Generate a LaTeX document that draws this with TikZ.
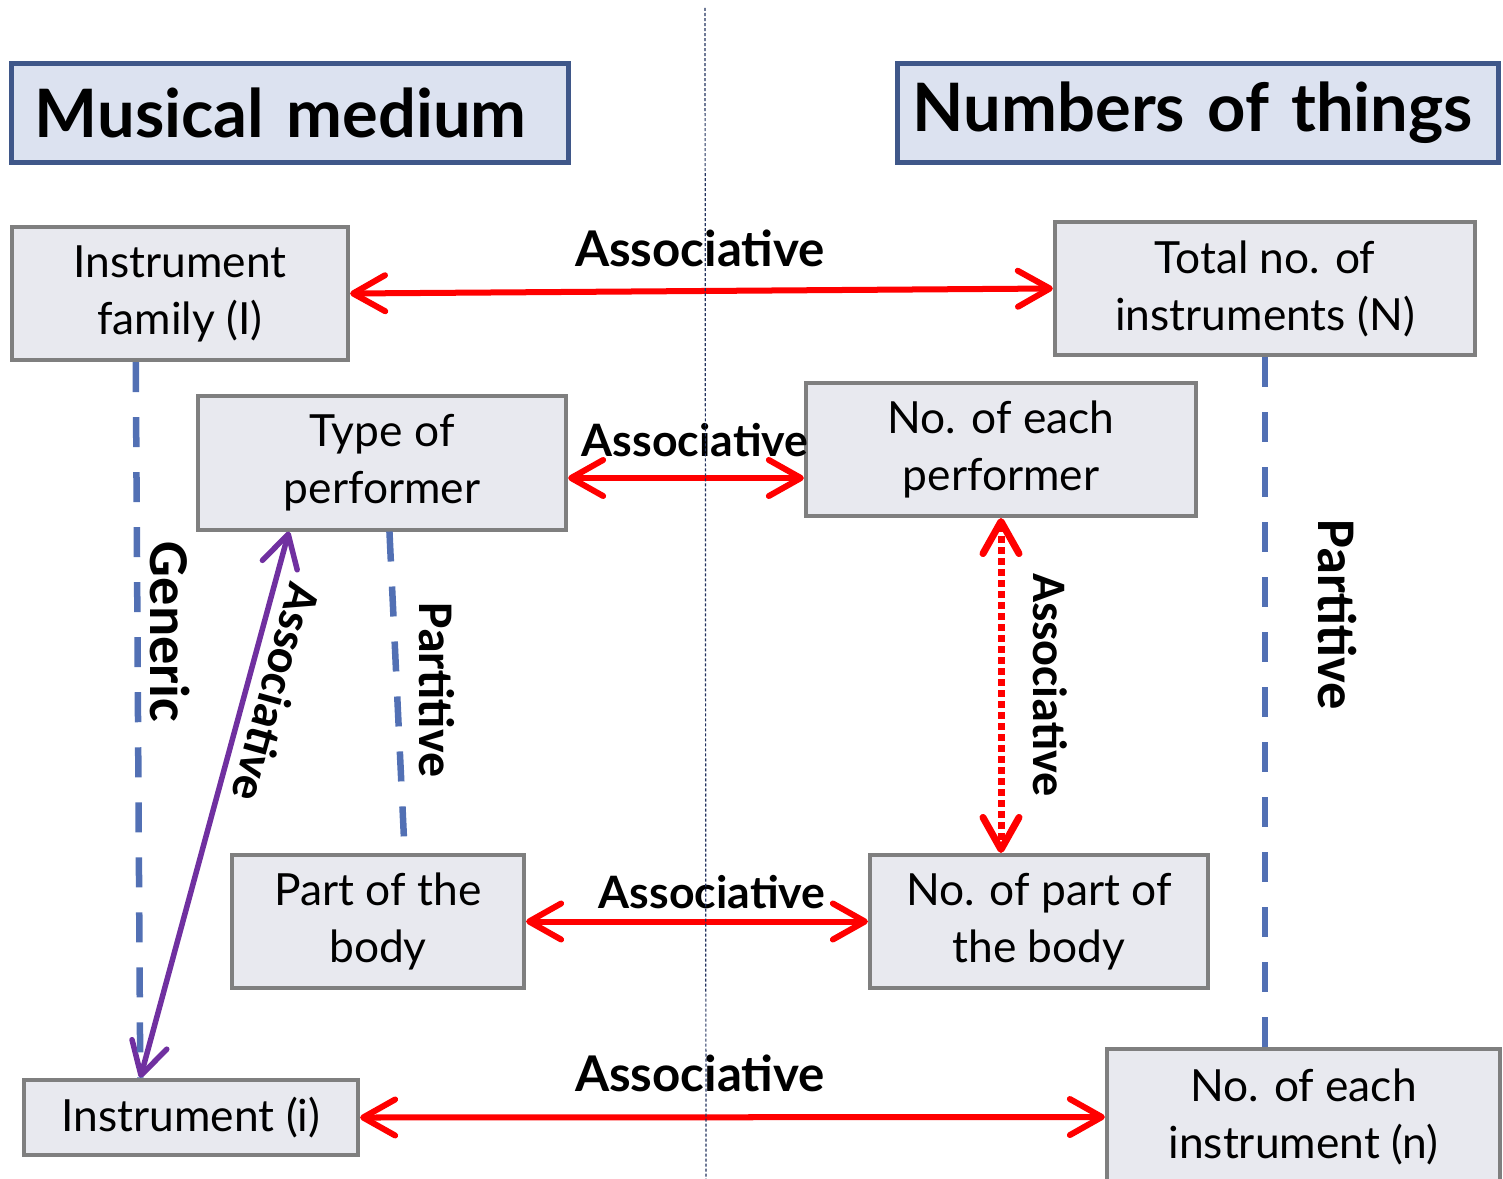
\documentclass[tikz,border=0pt]{standalone}
\usepackage{fontspec}
\setmainfont{Lato}
\newfontfamily\labelfont{Carlito}
\usetikzlibrary{arrows.meta,calc}

\definecolor{boxline}{HTML}{7F7F7F}
\definecolor{boxfill}{HTML}{E8E9EF}
\definecolor{headline}{HTML}{3F5789}
\definecolor{headfill}{HTML}{DCE2F0}
\definecolor{relred}{HTML}{FF0000}
\definecolor{relpurple}{HTML}{7030A0}
\definecolor{relblue}{HTML}{5270B4}
\definecolor{midline}{HTML}{22325E}

\tikzset{
    headbox/.style={draw=headline, fill=headfill, line width=0.05cm, inner xsep=0.23cm,
        inner ysep=0pt, minimum height=0.98cm, text width=#1, align=left,
        font=\bfseries\fontsize{19}{22}\selectfont},
    textbox/.style={draw=boxline, fill=boxfill, line width=0.04cm, inner sep=0pt,
        align=center, minimum height=1.33cm, font=\fontsize{12.6}{16.2}\selectfont},
    bigrel/.style={font=\bfseries\fontsize{14}{14}\selectfont},
    smallrel/.style={font=\bfseries\fontsize{12.7}{12.7}\selectfont},
    vertrel/.style={font=\labelfont\bfseries\fontsize{#1}{#1}\selectfont, rotate=-90},
    assoc/.style={{Straight Barb[length=0.32cm, width=0.36cm, round]}-{Straight Barb[length=0.32cm, width=0.36cm, round]},
        draw=relred, line width=0.06cm},
    partof/.style={draw=relblue, line width=0.065cm, dash pattern=on 0.3cm off 0.25cm}
}

\begin{document}
\begin{tikzpicture}[x=0.01cm, y=-0.01cm]

    \useasboundingbox (0, 0) rectangle (1503, 1179);

    % headers
    \node (mm) at (290, 113) [headbox=5.10cm] {Musical medium};
    \node (nt) at (1198, 113) [headbox=5.70cm, inner xsep=0.15cm] {Numbers of things};

    % left column
    \node (fam) at (180, 293.5) [textbox, minimum width=3.36cm] {Instrument\\family (I)};
    \node (perf) at (382, 463) [textbox, minimum width=3.68cm] {Type of\\performer};
    \node (body) at (378, 921.5) [textbox, minimum width=2.92cm] {Part of the\\body};
    \node (inst) at (191, 1117.5) [textbox, minimum width=3.34cm, minimum height=0.75cm] {Instrument (i)};

    % right column
    \node (tot) at (1265, 288.5) [textbox, minimum width=4.20cm] {Total no. of\\instruments (N)};
    \node (eperf) at (1001, 449.5) [textbox, minimum width=3.90cm] {No. of each\\performer};
    \node (ebody) at (1039, 921.5) [textbox, minimum width=3.38cm] {No. of part of\\the body};
    \node (einst) at (1303.5, 1117) [textbox, minimum width=3.93cm, minimum height=1.36cm] {No. of each\\instrument (n)};

    \coordinate (m2) at (686, 478);

    % associative links
    \draw [assoc] (fam.east) -- (tot.west);
    \draw [assoc] (perf.east |- m2) -- (eperf.west |- m2);
    \draw [assoc, line width=0.07cm, dash pattern=on 0.065cm off 0.045cm] (eperf.south) -- (eperf.south |- ebody.north);
    \draw [assoc] (body.east) -- (ebody.west);
    \draw [assoc] (inst.east) -- (einst.west);
    \draw [assoc, draw=relpurple, line width=0.055cm]
        ($(perf.south west)!0.25!(perf.south east)$) -- ($(inst.north west)!0.35!(inst.north east)$);

    % generic and partitive links
    \draw [partof] ($(fam.south west)!0.37!(fam.south east)$) -- ($(inst.north west)!0.35!(inst.north east)$);
    \draw [partof] ($(perf.south west)!0.52!(perf.south east)$) -- ($(body.north west)!0.59!(body.north east)$);
    \draw [partof] (tot.south) -- (tot.south |- einst.north);

    % labels
    \node (l1) at (700, 248) [bigrel] {Associative};
    \node (l2) at (695, 440) [smallrel] {Associative};
    \node (l3) at (1050, 685) [vertrel=13.7] {Associative};
    \node (l4) at (712, 892) [smallrel] {Associative};
    \node (l5) at (700, 1073) [bigrel] {Associative};
    \node (l6) at (277, 693) [vertrel=13.7, rotate=-15.5] {Associative};
    \node (l7) at (170, 632) [vertrel=16] {Generic};
    \node (l8) at (437, 690) [vertrel=14.2] {Partitive};
    \node (l9) at (1337, 615) [vertrel=15.5] {Partitive};

    % dividing line
    \draw [midline, line width=0.012cm, dash pattern=on 0.03cm off 0.02cm] (705, 8) -- (706, 1179);

\end{tikzpicture}
\end{document}
